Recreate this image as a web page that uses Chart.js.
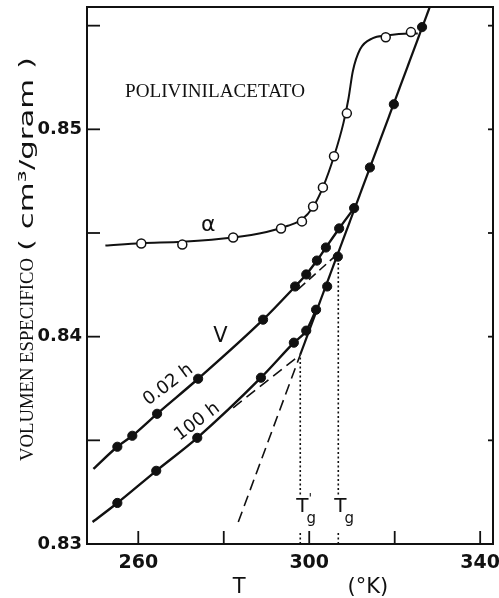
<!DOCTYPE html>
<html>
<head>
<meta charset="utf-8">
<script src="https://cdn.jsdelivr.net/npm/chart.js@4.4.0/dist/chart.umd.min.js"></script>
<style>
  body { margin: 0; background: #fff; }
  #wrap { width: 499px; height: 598px; }
</style>
</head>
<body>
<div id="wrap"><canvas id="volChart" width="499" height="598"></canvas></div>
<script>
// ticks
const xTicks = [260, 280, 300, 320, 340];
const xLabels = [260, 300, 340];
const yTicks = [0.83, 0.835, 0.84, 0.845, 0.85, 0.855];
const yLabels = [0.83, 0.84, 0.85];

// alpha (open circles) and its drawn curve
const alphaX = [260.7, 270.3, 282.2, 293.4, 298.3, 300.9, 303.2, 305.8, 308.8, 317.9, 323.8];
const alphaY = [0.84449, 0.84444, 0.84478, 0.84522, 0.84556, 0.84628, 0.8472, 0.8487, 0.85077, 0.85444, 0.85469];
const alphaCurveX = [252.3, 260.7, 270.3, 282.2, 290.0, 295.0, 298.3, 300.9, 303.2, 305.8, 308.0, 309.2, 310.2, 311.9, 314.9, 317.9, 323.3, 325.4];
const alphaCurveY = [0.8444, 0.84451, 0.84458, 0.84478, 0.84505, 0.84535, 0.84565, 0.84625, 0.8472, 0.8487, 0.8503, 0.8515, 0.8528, 0.85386, 0.8544, 0.85452, 0.85462, 0.85462];

// V after 0.02 h
const h002X = [255.1, 258.6, 264.4, 274.0, 289.2, 296.7, 299.3, 301.8, 303.9, 307.0];
const h002Y = [0.83469, 0.83522, 0.83628, 0.83797, 0.84082, 0.84242, 0.84300, 0.84367, 0.84430, 0.84522];
const h002CurveX = [249.5, 255.1, 258.6, 264.4, 274.0, 289.2, 296.7, 299.3, 301.8, 303.9, 307.0, 310.5];
const h002CurveY = [0.83362, 0.83469, 0.83522, 0.83628, 0.83797, 0.84082, 0.84242, 0.84300, 0.84367, 0.84430, 0.84522, 0.84620];

// V after 100 h
const h100X = [255.1, 264.2, 273.8, 288.7, 296.4, 299.3, 301.6];
const h100Y = [0.83198, 0.83353, 0.83512, 0.83802, 0.83971, 0.84029, 0.8413];
const h100CurveX = [249.3, 255.1, 264.2, 273.8, 288.7, 296.4, 299.3, 301.6];
const h100CurveY = [0.83106, 0.83198, 0.83353, 0.83512, 0.83802, 0.83971, 0.84029, 0.8413];

// equilibrium (liquid) line and its points
const liqX = [304.2, 306.7, 310.5, 314.2, 319.8, 326.4];
const liqY = [0.84242, 0.84386, 0.84620, 0.84816, 0.85121, 0.85493];
const liqLineX = [297.9, 328.2];
const liqLineY = [0.83913, 0.8559];
const liqDashX = [283.4, 297.9];
const liqDashY = [0.83106, 0.83913];

// glass line extensions
const glass100X = [282.2, 297.9];
const glass100Y = [0.83657, 0.83913];
const glass002X = [297.5, 306.8];
const glass002Y = [0.8423, 0.84402];

// Tg' and Tg
const tgPrime = 297.9, tgPrimeV = 0.83913;
const tg = 306.8, tgV = 0.84402;

const pts = (xs, ys) => xs.map((x, i) => ({ x: x, y: ys[i] }));
const INK = '#111';

const lineSet = (data, width, dash) => ({
    data: data, showLine: true, pointRadius: 0, borderColor: INK,
    borderWidth: width, borderDash: dash || [], fill: false, order: 1
});

// draw text stretched/squeezed to a given length
function fitText(c, txt, x, y, width) {
    const w = c.measureText(txt).width;
    c.save();
    c.translate(x, y);
    c.scale(width / w, 1);
    c.fillText(txt, 0, 0);
    c.restore();
}

const annotations = {
    id: 'annotations',
    afterDraw(chart) {
        const c = chart.ctx, a = chart.chartArea;
        const sx = chart.scales.x, sy = chart.scales.y;
        c.save();
        c.strokeStyle = INK;
        c.fillStyle = INK;
        // frame
        c.lineWidth = 2;
        c.strokeRect(a.left, a.top, a.right - a.left, a.bottom - a.top);
        // inward ticks
        c.lineWidth = 1.8;
        yTicks.forEach(v => {
            const py = sy.getPixelForValue(v);
            c.beginPath(); c.moveTo(a.left, py); c.lineTo(a.left + 13, py); c.stroke();
            if (v > 0.83) { c.beginPath(); c.moveTo(a.right, py); c.lineTo(a.right - 5, py); c.stroke(); }
        });
        xTicks.forEach(v => {
            const px = sx.getPixelForValue(v);
            c.beginPath(); c.moveTo(px, a.bottom); c.lineTo(px, a.bottom - 13); c.stroke();
        });

        // texts
        c.textBaseline = 'middle';
        c.textAlign = 'left';
        c.font = '19px "Liberation Serif"';
        fitText(c, 'POLIVINILACETATO', sx.getPixelForValue(256.9), sy.getPixelForValue(0.8518), 180);

        c.textAlign = 'center';
        c.font = '22px "DejaVu Sans"';
        c.fillText('\u03b1', sx.getPixelForValue(276.4), sy.getPixelForValue(0.84536));
        c.font = '21px "DejaVu Sans"';
        c.fillText('V', sx.getPixelForValue(279.2), sy.getPixelForValue(0.8400));

        const rotText = (txt, x, y, ang, font) => {
            c.save();
            c.translate(sx.getPixelForValue(x), sy.getPixelForValue(y));
            c.rotate(ang * Math.PI / 180);
            c.font = font;
            c.fillText(txt, 0, 0);
            c.restore();
        };
        rotText('0.02 h', 267.0, 0.83768, -37, '18px "DejaVu Sans"');
        rotText('100 h', 273.8, 0.83589, -37, '18px "DejaVu Sans"');

        // Tg labels
        const tLabel = (x, prime) => {
            const px = sx.getPixelForValue(x) + 2;
            const py = a.bottom - 37;
            c.fillStyle = '#fff';
            c.fillRect(px - 8, py - 12, 22, 36);
            c.fillStyle = INK;
            c.font = '20px "DejaVu Sans"';
            c.textAlign = 'center';
            c.fillText('T', px, py);
            c.font = '15px "DejaVu Sans"';
            c.fillText('g', px + 9, py + 12);
            if (prime) { c.font = '13px "DejaVu Sans"'; c.fillText("'", px + 8, py - 8); }
        };
        tLabel(tgPrime, true);
        tLabel(tg, false);

        // x title
        c.font = '21px "DejaVu Sans"';
        c.fillText('T', sx.getPixelForValue(283.6), a.bottom + 44);
        c.fillText('(\u00b0K)', sx.getPixelForValue(313.7), a.bottom + 44);

        // y title (mixed fonts)
        c.save();
        c.translate(33, 0);
        c.rotate(-Math.PI / 2);
        c.textAlign = 'left';
        c.textBaseline = 'alphabetic';
        c.font = '19px "Liberation Serif"';
        fitText(c, 'VOLUMEN ESPECIFICO', -461, 0, 203);
        c.font = '20px "DejaVu Sans"';
        fitText(c, '( cm\u00b3/gram )', -251, 0, 194);
        c.restore();

        c.restore();
    }
};

const noPad = s => { s.paddingTop = 0; s.paddingBottom = 0; s.paddingLeft = 0; s.paddingRight = 0; };

new Chart(document.getElementById('volChart').getContext('2d'), {
    type: 'scatter',
    data: {
        datasets: [
            {
                data: pts(alphaX, alphaY), pointRadius: 4.5, pointBorderWidth: 1.5,
                pointBackgroundColor: '#fff', pointBorderColor: INK, order: 0
            },
            {
                data: pts(h002X, h002Y).concat(pts(h100X, h100Y), pts(liqX, liqY)),
                pointRadius: 4.6, pointBorderWidth: 1,
                pointBackgroundColor: INK, pointBorderColor: INK, order: 0
            },
            Object.assign(lineSet(pts(alphaCurveX, alphaCurveY), 2), { cubicInterpolationMode: 'monotone' }),
            Object.assign(lineSet(pts(h002CurveX, h002CurveY), 2.4), { cubicInterpolationMode: 'monotone' }),
            Object.assign(lineSet(pts(h100CurveX, h100CurveY), 2.4), { cubicInterpolationMode: 'monotone' }),
            lineSet(pts(liqLineX, liqLineY), 2.2),
            lineSet(pts(liqDashX, liqDashY), 1.6, [11, 6]),
            lineSet(pts(glass100X, glass100Y), 1.6, [11, 6]),
            lineSet(pts(glass002X, glass002Y), 1.6, [9, 5]),
            lineSet(pts([tgPrime, tgPrime], [0.83, tgPrimeV]), 1.6, [2, 2.5]),
            lineSet(pts([tg, tg], [0.83, tgV]), 1.6, [2, 2.5])
        ]
    },
    options: {
        responsive: false,
        animation: false,
        layout: { padding: { left: 0, top: 7, right: 6, bottom: 0 } },
        plugins: {
            legend: { display: false },
            tooltip: { enabled: false }
        },
        scales: {
            x: {
                type: 'linear', min: 248, max: 343,
                afterFit: s => { s.height = 54; noPad(s); },
                grid: { display: false, drawTicks: false },
                border: { display: false },
                ticks: {
                    stepSize: 20, autoSkip: false, maxRotation: 0, padding: 8, includeBounds: false,
                    color: INK, font: { family: 'DejaVu Sans', size: 19, weight: 'bold' },
                    callback: v => xLabels.includes(v) ? String(v) : ''
                }
            },
            y: {
                type: 'linear', min: 0.83, max: 0.8559,
                afterFit: s => { s.width = 87; noPad(s); },
                grid: { display: false, drawTicks: false },
                border: { display: false },
                ticks: {
                    stepSize: 0.005, autoSkip: false, padding: 5, includeBounds: false,
                    color: INK, font: { family: 'DejaVu Sans', size: 18, weight: 'bold' },
                    callback: v => yLabels.some(l => Math.abs(l - v) < 1e-6) ? v.toFixed(2) : ''
                }
            }
        }
    },
    plugins: [annotations]
});
</script>
</body>
</html>
